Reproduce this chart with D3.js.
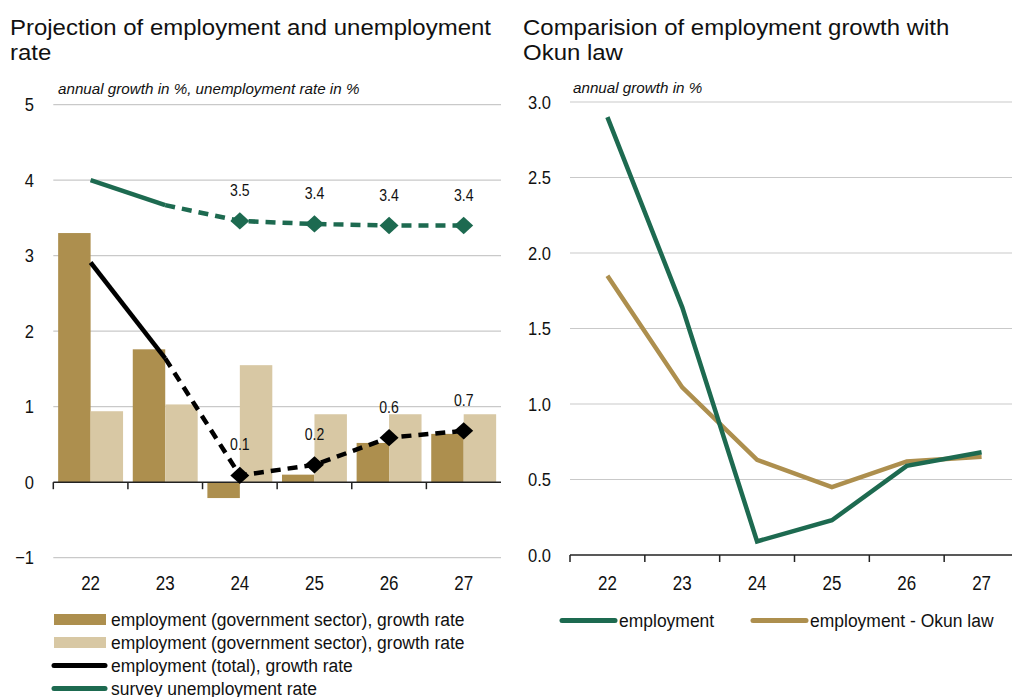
<!DOCTYPE html>
<html>
<head>
<meta charset="utf-8">
<script src="https://cdn.jsdelivr.net/npm/d3@7"></script>
<style>
  html, body { margin: 0; padding: 0; background: #fff; }
  svg { display: block; }
  text { font-family: "Liberation Sans", Arial, sans-serif; fill: #111; }
</style>
</head>
<body>
<svg id="chart" width="1012" height="697"></svg>
<script>
// Years (two-digit) on the category axis
const years = ["22", "23", "24", "25", "26", "27"];

// Left panel: bars and lines
const govGrowth = [3.30, 1.76, -0.21, 0.10, 0.52, 0.64];
const govGrowth2 = [0.94, 1.03, 1.55, 0.90, 0.90, 0.90];
const totalGrowth = [2.91, 1.64, 0.09, 0.23, 0.59, 0.68];
const unemployment = [4.00, 3.67, 3.46, 3.42, 3.40, 3.40];
const leftTicks = [-1, 0, 1, 2, 3, 4, 5];

// Right panel: employment vs Okun law
const employment = [2.90, 1.64, 0.09, 0.23, 0.59, 0.68];
const okun = [1.85, 1.11, 0.63, 0.45, 0.62, 0.65];
const rightTicks = [0, 0.5, 1.0, 1.5, 2.0, 2.5, 3.0];

// First index drawn dashed (projection starts from year 23)
const projStart = 1;
// Years carrying a marker and value label
const labelled = [2, 3, 4, 5];

const C = {
  gold: "#ad8f4e",
  beige: "#d8c8a4",
  green: "#1d6a50",
  black: "#000",
  grid: "#c9c9c9",
  axis: "#222"
};

// horizontal compression used for the condensed chart lettering
const NARROW = 0.87, LEG = 0.92;

const svg = d3.select("#chart");

// place a text at (x, y) with a horizontal scale factor
function place(sel, fx, fy, sx) {
  return sel.attr("x", 0).attr("y", 0)
    .attr("transform", (d, i) => `translate(${fx(d, i)},${fy(d, i)}) scale(${sx},1)`);
}

// ---------- Titles ----------
function title(x, lines) {
  lines.forEach((s, i) => {
    svg.append("text").attr("transform", `translate(${x},${35 + i * 25}) scale(1.09,1)`)
      .style("font-size", "22px").text(s);
  });
}
title(10, ["Projection of employment and unemployment", "rate"]);
title(523, ["Comparision of employment growth with", "Okun law"]);

// ---------- Left panel ----------
const xL = d3.scaleBand().domain(years).range([53.3, 501]);
const yL = d3.scaleLinear().domain([-1, 5]).range([557.7, 104.7]);
const cx = i => xL(years[i]) + xL.bandwidth() / 2;

const gL = svg.append("g");

gL.append("text").attr("x", 58).attr("y", 94)
  .style("font-style", "italic").style("font-size", "15.2px")
  .text("annual growth in %, unemployment rate in %");

// grid
gL.append("g").selectAll("line").data(leftTicks.filter(d => d !== 0)).join("line")
  .attr("x1", 53.3).attr("x2", 501)
  .attr("y1", d => yL(d)).attr("y2", d => yL(d))
  .attr("stroke", C.grid).attr("stroke-width", 1.2);

// y tick labels
place(gL.append("g").selectAll("text").data(leftTicks).join("text"),
    () => 34, d => yL(d), NARROW)
  .attr("text-anchor", "end").attr("dy", "0.35em").style("font-size", "19px")
  .text(d => d < 0 ? "\u2212" + Math.abs(d) : d);

const bw = xL.bandwidth() * 0.435;

// bars
gL.append("g").selectAll("rect").data(govGrowth).join("rect")
  .attr("x", (d, i) => cx(i) - bw).attr("width", bw)
  .attr("y", d => yL(Math.max(0, d))).attr("height", d => Math.abs(yL(d) - yL(0)))
  .attr("fill", C.gold);
gL.append("g").selectAll("rect").data(govGrowth2).join("rect")
  .attr("x", (d, i) => cx(i)).attr("width", bw)
  .attr("y", d => yL(Math.max(0, d))).attr("height", d => Math.abs(yL(d) - yL(0)))
  .attr("fill", C.beige);

// x axis at zero
const axL = gL.append("g").attr("transform", `translate(0,${yL(0)})`);
axL.append("line").attr("x1", 53.3).attr("x2", 501).attr("stroke", C.axis).attr("stroke-width", 1.5);
axL.selectAll("line.tk").data(years).join("line").attr("class", "tk")
  .attr("x1", d => xL(d)).attr("x2", d => xL(d)).attr("y1", 0).attr("y2", 7)
  .attr("stroke", C.axis).attr("stroke-width", 1.5);
place(gL.append("g").selectAll("text").data(years).join("text"),
    (d, i) => cx(i), () => 590, NARROW)
  .attr("text-anchor", "middle").style("font-size", "19.5px").text(d => d);

function seriesLine(g, vals, yS, color) {
  const pts = vals.map((v, i) => [cx(i), yS(v)]);
  const line = d3.line();
  g.append("path").attr("d", line(pts.slice(0, projStart + 1)))
    .attr("fill", "none").attr("stroke", color).attr("stroke-width", 4.5);
  g.append("path").attr("d", line(pts.slice(projStart)))
    .attr("fill", "none").attr("stroke", color).attr("stroke-width", 4.5)
    .attr("stroke-dasharray", "10,7");
  const sym = d3.symbol().type(d3.symbolDiamond2).size(190);
  g.append("g").selectAll("path").data(labelled).join("path")
    .attr("d", sym)
    .attr("transform", i => `translate(${cx(i)},${yS(vals[i])}) scale(1.1,1)`)
    .attr("fill", color);
  place(g.append("g").selectAll("text").data(labelled).join("text"),
      i => cx(i), i => yS(vals[i]) - 25, 0.88)
    .attr("text-anchor", "middle").style("font-size", "16px")
    .text(i => vals[i].toFixed(1));
}
seriesLine(gL, totalGrowth, yL, C.black);
seriesLine(gL, unemployment, yL, C.green);

// left legend
const legL = [
  { label: "employment (government sector), growth rate", type: "rect", color: C.gold },
  { label: "employment (government sector), growth rate", type: "rect", color: C.beige },
  { label: "employment (total), growth rate", type: "line", color: C.black },
  { label: "survey unemployment rate", type: "line", color: C.green }
];
const lg = svg.append("g").selectAll("g").data(legL).join("g")
  .attr("transform", (d, i) => `translate(0,${619.5 + i * 23})`);
lg.filter(d => d.type === "rect").append("rect")
  .attr("x", 54).attr("y", -5.5).attr("width", 52).attr("height", 11).attr("fill", d => d.color);
lg.filter(d => d.type === "line").append("line")
  .attr("x1", 54).attr("x2", 105).attr("stroke", d => d.color)
  .attr("stroke-width", 5).attr("stroke-linecap", "round");
lg.append("text").attr("x", 0).attr("transform", `translate(111,0) scale(${LEG},1)`)
  .attr("dy", "0.36em").style("font-size", "19px").text(d => d.label);

// ---------- Right panel ----------
const xR = d3.scaleBand().domain(years).range([570, 1019]);
const yR = d3.scaleLinear().domain([0, 3]).range([555, 102]);
const cxR = i => xR(years[i]) + xR.bandwidth() / 2;
const gR = svg.append("g");

gR.append("text").attr("x", 573).attr("y", 93)
  .style("font-style", "italic").style("font-size", "15.2px")
  .text("annual growth in %");

gR.append("g").selectAll("line").data(rightTicks.filter(d => d !== 0)).join("line")
  .attr("x1", 570).attr("x2", 1012)
  .attr("y1", d => yR(d)).attr("y2", d => yR(d))
  .attr("stroke", C.grid).attr("stroke-width", 1.2);

place(gR.append("g").selectAll("text").data(rightTicks).join("text"),
    () => 551, d => yR(d), NARROW)
  .attr("text-anchor", "end").attr("dy", "0.35em").style("font-size", "19px")
  .text(d3.format(".1f"));

const axR = gR.append("g").attr("transform", `translate(0,${yR(0)})`);
axR.append("line").attr("x1", 570).attr("x2", 1012).attr("stroke", C.axis).attr("stroke-width", 1.5);
axR.selectAll("line.tk").data(years).join("line").attr("class", "tk")
  .attr("x1", d => xR(d)).attr("x2", d => xR(d)).attr("y1", 0).attr("y2", 7)
  .attr("stroke", C.axis).attr("stroke-width", 1.5);
place(gR.append("g").selectAll("text").data(years).join("text"),
    (d, i) => cxR(i), () => 590, NARROW)
  .attr("text-anchor", "middle").style("font-size", "19.5px").text(d => d);

const lineR = d3.line().x((d, i) => cxR(i)).y(d => yR(d));
gR.append("path").attr("d", lineR(okun)).attr("fill", "none")
  .attr("stroke", C.gold).attr("stroke-width", 4.5);
gR.append("path").attr("d", lineR(employment)).attr("fill", "none")
  .attr("stroke", C.green).attr("stroke-width", 4.5);

// right legend
const legR = [
  { label: "employment", color: C.green, x: 562 },
  { label: "employment - Okun law", color: C.gold, x: 753 }
];
const lr = svg.append("g").selectAll("g").data(legR).join("g")
  .attr("transform", d => `translate(${d.x},620.5)`);
lr.append("line").attr("x1", 0).attr("x2", 53).attr("stroke", d => d.color)
  .attr("stroke-width", 5).attr("stroke-linecap", "round");
lr.append("text").attr("x", 0).attr("transform", `translate(57,0) scale(${LEG},1)`)
  .attr("dy", "0.36em").style("font-size", "19px").text(d => d.label);
</script>
</body>
</html>
